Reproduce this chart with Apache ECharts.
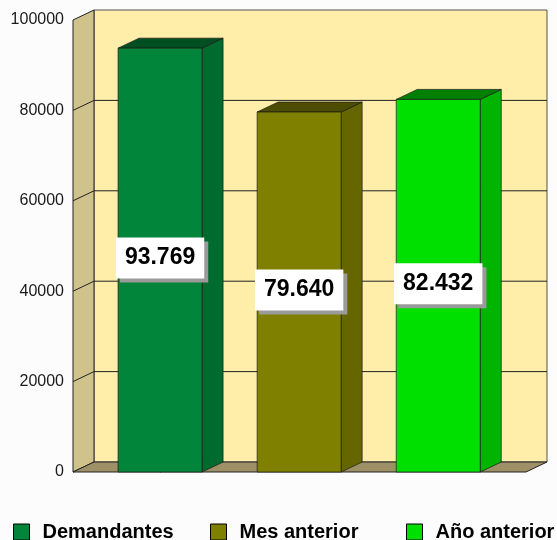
<!DOCTYPE html>
<html>
<head>
<meta charset="utf-8">
<script src="https://cdn.jsdelivr.net/npm/echarts@6/dist/echarts.min.js"></script>
<style>
  html, body { margin: 0; padding: 0; background: #FCFCFC; }
  #main { width: 557px; height: 540px; }
</style>
</head>
<body>
<div id="main"></div>
<script>
var categories = ['Demandantes', 'Mes anterior', 'Año anterior'];
var values = [93769, 79640, 82432];
var yTicks = [0, 20000, 40000, 60000, 80000, 100000];

var frontColors = ['#00853A', '#808000', '#00E000'];
var sideColors = ['#006B2E', '#666600', '#00B400'];
var topColors = ['#004F22', '#4D4D00', '#008000'];

var FONT = '"Liberation Sans", Arial, sans-serif';
var DX = 21, DY = -10;      // profundidad 3D
var X_MIN = -0.626, X_MAX = 2.631;
var HALF_W = 0.302;         // media anchura de barra (unidades eje x)

// 93769 -> "93.769"
function fmt(v) {
	return String(v).replace(/\B(?=(\d{3})+(?!\d))/g, '.');
}

var myChart = echarts.init(document.getElementById('main'));

// paredes y suelo del grafico 3D
function renderWalls(params, api) {
	var yMax = yTicks[yTicks.length - 1];
	var xl = api.coord([X_MIN, 0])[0];
	var xr = api.coord([X_MAX, 0])[0];
	var y0 = api.coord([X_MIN, 0])[1];
	var yt = api.coord([X_MIN, yMax])[1];
	var children = [];
	// pared del fondo
	children.push({
		type: 'polygon',
		shape: { points: [[xl + DX, yt + DY], [xr + DX, yt + DY], [xr + DX, y0 + DY], [xl + DX, y0 + DY]] },
		style: { fill: '#FFEEAA', stroke: '#555', lineWidth: 1 }
	});
	// pared lateral
	children.push({
		type: 'polygon',
		shape: { points: [[xl, y0], [xl, yt], [xl + DX, yt + DY], [xl + DX, y0 + DY]] },
		style: { fill: '#CFC38B', stroke: '#222', lineWidth: 1 }
	});
	// suelo
	children.push({
		type: 'polygon',
		shape: { points: [[xl, y0], [xr, y0], [xr + DX, y0 + DY], [xl + DX, y0 + DY]] },
		style: { fill: '#9E9168', stroke: '#222', lineWidth: 1 }
	});
	// lineas de division
	for (var i = 1; i < yTicks.length - 1; i++) {
		var y = api.coord([X_MIN, yTicks[i]])[1];
		children.push({
			type: 'line',
			shape: { x1: xl + DX, y1: y + DY, x2: xr + DX, y2: y + DY },
			style: { stroke: '#222', lineWidth: 1 }
		});
		children.push({
			type: 'line',
			shape: { x1: xl, y1: y, x2: xl + DX, y2: y + DY },
			style: { stroke: '#222', lineWidth: 1 }
		});
	}
	return { type: 'group', children: children };
}

function makeBarRender(idx) {
	return function(params, api) {
		var x = api.value(0), v = api.value(1);
		var p0 = api.coord([x - HALF_W, 0]);
		var p1 = api.coord([x + HALF_W, v]);
		var xl = p0[0], yb = p0[1], xr = p1[0], yt = p1[1];
		var line = { stroke: '#1a1a1a', lineWidth: 0.7 };
		return {
			type: 'group',
			children: [{
				type: 'polygon',
				shape: { points: [[xr, yt], [xr + DX, yt + DY], [xr + DX, yb + DY], [xr, yb]] },
				style: Object.assign({ fill: sideColors[idx] }, line)
			}, {
				type: 'polygon',
				shape: { points: [[xl, yt], [xl + DX, yt + DY], [xr + DX, yt + DY], [xr, yt]] },
				style: Object.assign({ fill: topColors[idx] }, line)
			}, {
				type: 'rect',
				shape: { x: xl, y: yt, width: xr - xl, height: yb - yt },
				style: Object.assign({ fill: frontColors[idx] }, line)
			}, {
				type: 'text',
				x: (xl + xr) / 2,
				y: (yt + yb) / 2 - 2,
				z2: 100,
				style: {
					text: fmt(v),
					font: 'bold 23px ' + FONT,
					fill: '#000',
					align: 'center',
					verticalAlign: 'middle',
					backgroundColor: '#fff',
					padding: [9, 9],
					shadowColor: '#9a9a9a',
					shadowOffsetX: 4,
					shadowOffsetY: 4,
					shadowBlur: 0
				}
			}]
		};
	};
}

var series = [{
	type: 'custom',
	name: 'walls',
	z: 1,
	silent: true,
	renderItem: renderWalls,
	data: [[0, 0]]
}];
for (var i = 0; i < categories.length; i++) {
	series.push({
		type: 'custom',
		name: categories[i],
		z: 2,
		itemStyle: { color: frontColors[i] },
		renderItem: makeBarRender(i),
		data: [[i, values[i]]]
	});
}

var legendLeft = [8, 205, 401];
var legends = [];
for (var j = 0; j < categories.length; j++) {
	legends.push({
		data: [categories[j]],
		left: legendLeft[j],
		top: 517,
		icon: 'rect',
		itemWidth: 16,
		itemHeight: 16,
		selectedMode: false,
		itemStyle: { borderColor: '#000', borderWidth: 1 },
		textStyle: {
			fontFamily: FONT,
			fontWeight: 'bold',
			fontSize: 20,
			color: '#000',
			padding: [0, 0, 9, 8]
		}
	});
}

var option = {
	backgroundColor: '#FCFCFC',
	animation: false,
	grid: { left: 73, right: 31, top: 20, bottom: 68 },
	xAxis: {
		type: 'value',
		min: X_MIN,
		max: X_MAX,
		show: false
	},
	yAxis: {
		type: 'value',
		min: yTicks[0],
		max: yTicks[yTicks.length - 1],
		interval: yTicks[1] - yTicks[0],
		axisLine: { show: true, lineStyle: { color: '#222', width: 1 } },
		axisTick: { show: false },
		splitLine: { show: false },
		axisLabel: {
			margin: 9,
			fontFamily: FONT,
			fontSize: 16,
			color: '#1a1a1a',
			formatter: function(val) {
				return val + '';
			}
		}
	},
	legend: legends,
	series: series
};
myChart.setOption(option);
</script>
</body>
</html>
